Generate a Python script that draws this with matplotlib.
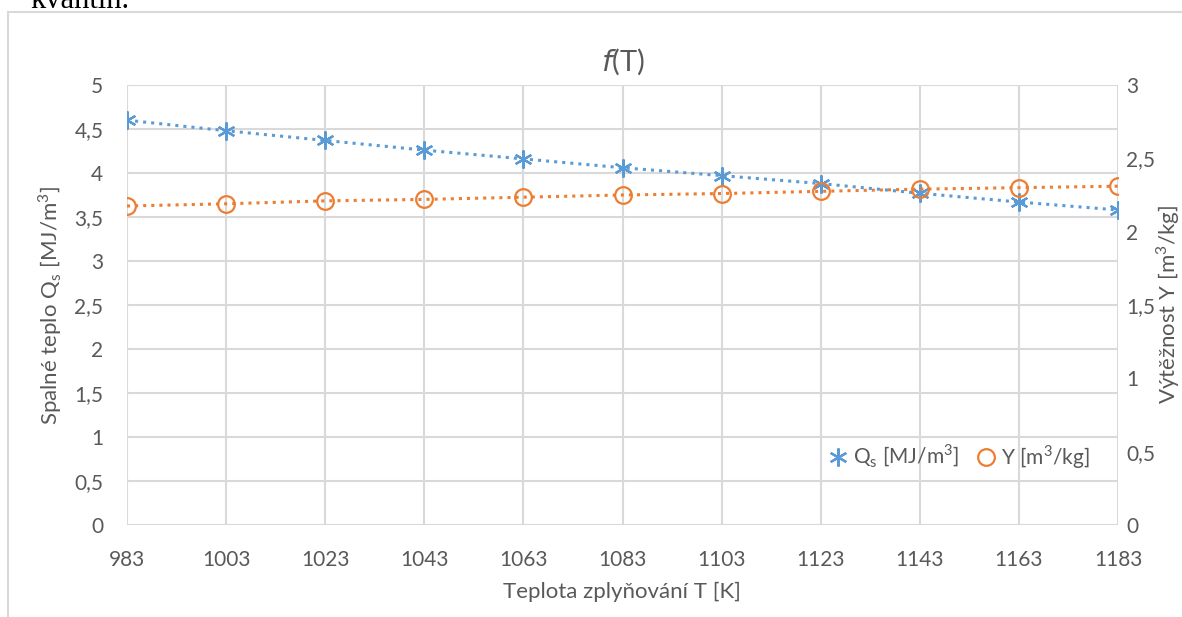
import numpy as np
import matplotlib.pyplot as plt
from matplotlib.patches import Rectangle
from matplotlib.ticker import FuncFormatter

plt.rcParams['font.family'] = ['Lato', 'DejaVu Sans']

# data
teplota = [983, 1003, 1023, 1043, 1063, 1083, 1103, 1123, 1143, 1163, 1183]
qs = [4.60, 4.48, 4.37, 4.26, 4.16, 4.06, 3.97, 3.88, 3.77, 3.67, 3.58]
vytez = [2.175, 2.19, 2.21, 2.22, 2.235, 2.25, 2.26, 2.275, 2.29, 2.30, 2.31]

modra = '#5b9bd5'
oranz = '#ed7d31'
seda = '#595959'
mrizka = '#d9d9d9'

fig = plt.figure(figsize=(11.82, 6.17), dpi=100)
W, H = 1182, 617

# frame of the embedded chart + cut-off text above it
fig.patches.append(Rectangle((8 / W, -0.1), 1.2, 1 - 12 / H + 0.1, transform=fig.transFigure,
                             fill=False, edgecolor=mrizka, linewidth=1.5))
fig.text(30 / W, 1 - 1 / H, 'kvantin.', fontsize=22, family='Liberation Serif',
         color='black', va='center', ha='left')

ax = fig.add_axes([127 / W, 92 / H, (1118 - 127) / W, (525 - 85) / H])
ax2 = ax.twinx()

ax.plot(teplota, qs, linestyle=':', linewidth=2.2, color=modra, marker=(6, 2, 0),
        markersize=13, markeredgewidth=1.6, label='Q$_\\mathregular{s}$ [MJ/m$^\\mathregular{3}$]')
ax2.plot(teplota, vytez, linestyle=':', linewidth=2.2, color=oranz, marker='o',
         markersize=12, markerfacecolor='none', markeredgewidth=1.6,
         label='Y [m$^\\mathregular{3}$/kg]')

ax.set_xlim(983, 1183)
ax.set_ylim(0, 5)
ax2.set_ylim(0, 3)
ax.set_xticks(teplota)
ax.set_yticks(np.arange(0, 5.01, 0.5))
ax2.set_yticks(np.arange(0, 3.01, 0.5))

carka = FuncFormatter(lambda v, p: ('%g' % v).replace('.', ','))
ax.yaxis.set_major_formatter(carka)
ax2.yaxis.set_major_formatter(carka)

ax.grid(True, color=mrizka, linewidth=1.5)
ax.set_axisbelow(True)
for a in (ax, ax2):
    for s in a.spines.values():
        s.set_visible(False)
    a.tick_params(length=0, labelsize=15, labelcolor=seda)
ax.tick_params(axis='y', pad=17)
ax.tick_params(axis='x', pad=18)
ax2.tick_params(axis='y', pad=6)

ax.set_xlabel('Teplota zplyňování T [K]', fontsize=16, color=seda)
ax.set_ylabel('Spalné teplo Q$_\\mathregular{s}$ [MJ/m$^\\mathregular{3}$]', fontsize=16, color=seda)
ax2.set_ylabel('Výtěžnost Y [m$^\\mathregular{3}$/kg]', fontsize=16, color=seda)
ax.xaxis.set_label_coords(622 / W, 1 - 592 / H, transform=fig.transFigure)
ax.yaxis.set_label_coords(50 / W, 1 - 305 / H, transform=fig.transFigure)
ax2.yaxis.set_label_coords(1168 / W, 1 - 305 / H, transform=fig.transFigure)
ax.xaxis.label.set_va('center')
ax.yaxis.label.set_va('center')
ax2.yaxis.label.set_va('center')
ax.set_title('$\\it{f}$(T)', fontsize=21, color=seda, pad=10)

h1, l1 = ax.get_legend_handles_labels()
h2, l2 = ax2.get_legend_handles_labels()
leg = ax2.legend(h1 + h2, l1 + l2, loc='center right', bbox_to_anchor=(0.99, 0.155),
                 ncol=2, frameon=False, fontsize=15, handlelength=0.8,
                 handletextpad=0.3, columnspacing=0.9, labelcolor=seda)
for h in leg.legend_handles:
    h.set_linestyle('none')

fig.savefig('out.png', dpi=100)
